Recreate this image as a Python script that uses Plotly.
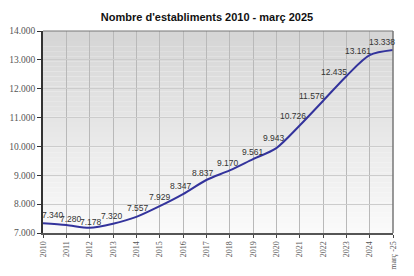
import plotly.graph_objects as go

categories = ["2010", "2011", "2012", "2013", "2014", "2015", "2016", "2017",
              "2018", "2019", "2020", "2021", "2022", "2023", "2024", "març -25"]
values = [7340, 7280, 7178, 7320, 7557, 7929, 8347, 8837,
          9170, 9561, 9943, 10726, 11576, 12435, 13161, 13338]
labels = ["7.340", "7.280", "7.178", "7.320", "7.557", "7.929", "8.347", "8.837",
          "9.170", "9.561", "9.943", "10.726", "11.576", "12.435", "13.161", "13.338"]
y_ticks = [7000, 8000, 9000, 10000, 11000, 12000, 13000, 14000]
y_ticktext = ["7.000", "8.000", "9.000", "10.000", "11.000", "12.000", "13.000", "14.000"]

# label offsets in pixels (style only)
label_dx = [9.5, 4.5, 1.5, -1, 1.5, 0, -2.5, -3, -1.5, 0, -2, -6.5, -11, -12.5, -12, -11]
label_dy = [8, 6, 5.5, 8, 9, 9.5, 8, 7, 7.5, 7, 10, 9.5, 5, 4.5, 4, 8]

fig = go.Figure()
fig.add_trace(go.Scatter(
    x=categories, y=values, mode="lines",
    line=dict(color="#33339c", width=2, shape="spline", smoothing=0.8),
    hoverinfo="skip",
))

annotations = []
for i, (v, t, dx, dy) in enumerate(zip(values, labels, label_dx, label_dy)):
    annotations.append(dict(x=i, y=v, xref="x", yref="y", text=t, showarrow=False,
                            xanchor="center", yanchor="middle",
                            xshift=dx, yshift=dy,
                            font=dict(family="Liberation Sans, Arial", size=8.5, color="#333333")))

# vertical gradient background
n = 40
shapes = []
for i in range(n):
    t = i / (n - 1)
    c = int(250 - (250 - 214) * t)
    shapes.append(dict(type="rect", xref="paper", yref="paper",
                       x0=0, x1=1, y0=i / n, y1=(i + 1) / n,
                       fillcolor=f"rgb({c},{c},{c})", line=dict(width=0), layer="below"))
# top and right border
shapes.append(dict(type="line", xref="paper", yref="paper", x0=0, x1=1, y0=1, y1=1,
                   line=dict(color="#777777", width=1)))
shapes.append(dict(type="line", xref="paper", yref="paper", x0=1, x1=1, y0=0, y1=1,
                   line=dict(color="#777777", width=1.5)))

fig.update_layout(
    width=414, height=276,
    margin=dict(l=43, r=21, t=31, b=43, autoexpand=False),
    paper_bgcolor="white", plot_bgcolor="white",
    showlegend=False,
    shapes=shapes,
    annotations=annotations,
    title=dict(text="<b>Nombre d'establiments 2010 - març 2025</b>",
               x=0.5, xanchor="center", y=1 - 17 / 276, yanchor="middle",
               font=dict(family="Liberation Sans, Arial", size=11, color="#111111")),
    xaxis=dict(
        type="category", range=[0, 15], automargin=False,
        showgrid=True, gridcolor="#b9b9b9", gridwidth=1,
        showline=True, linecolor="#555555", linewidth=2,
        ticks="outside", ticklen=3, tickcolor="#444444",
        tickangle=-90,
        tickfont=dict(family="Liberation Serif, Times New Roman", size=8, color="#555555"),
        zeroline=False,
    ),
    yaxis=dict(
        range=[7000, 14000], tickvals=y_ticks, ticktext=y_ticktext, automargin=False,
        showgrid=True, gridcolor="#cccccc", gridwidth=1,
        showline=True, linecolor="#333333", linewidth=1.5,
        ticks="outside", ticklen=4, tickcolor="#333333",
        tickfont=dict(family="Liberation Serif, Times New Roman", size=9.5, color="#555555"),
        zeroline=False,
    ),
)

fig.write_html("out.html")
